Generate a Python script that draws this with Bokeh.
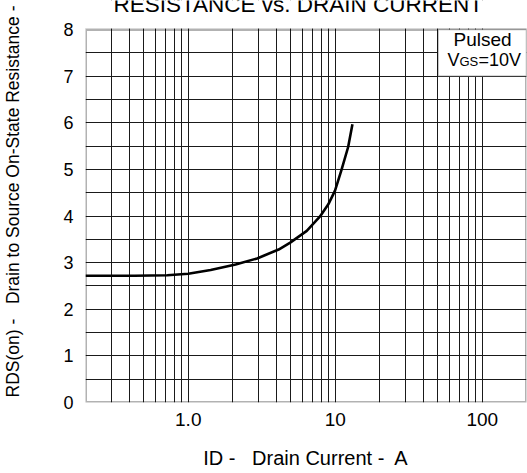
from bokeh.plotting import figure
from bokeh.models import FixedTicker, Label, BoxAnnotation
from bokeh.embed import file_html
from bokeh.resources import INLINE

# ---- data ----
drain_current = [0.2, 0.43, 0.72, 1.0, 1.42, 2.1, 2.94, 4.12, 4.94, 6.4, 7.88, 8.97, 9.95, 11.03, 12.24, 13.09]
rds_on = [2.72, 2.72, 2.73, 2.76, 2.84, 2.96, 3.09, 3.28, 3.43, 3.68, 3.99, 4.25, 4.54, 4.99, 5.48, 5.97]

x_tick_values = [1, 10, 100]
x_tick_labels = ["1.0", "10", "100"]
y_tick_values = [0, 1, 2, 3, 4, 5, 6, 7, 8]

x_min, x_max = 0.2, 200
y_min, y_max = 0, 8

FONT = "Liberation Sans"
NB = "\u00a0"
K = 0.42   # label baseline correction, in em

# ---- layout (pixels) ----
W, H = 527, 473
LEFT, RIGHT = 83, 1          # borders around the plotting frame
BOTTOM = 71
TOP_GAP = 29                 # room above y=8 kept inside the frame for the cut-off title
FRAME_H = H - BOTTOM         # frame runs to the top of the canvas
px_per_unit = (FRAME_H - TOP_GAP) / (y_max - y_min)
y_view_top = y_max + TOP_GAP / px_per_unit

x_grid = [m * 10 ** e for e in (-1, 0, 1, 2) for m in range(1, 10) if x_min < m * 10 ** e < x_max]
y_grid = [i * 0.5 for i in range(1, 16)]

p = figure(width=W, height=H, x_axis_type="log",
           x_range=(x_min, x_max), y_range=(y_min, y_view_top),
           output_backend="svg", toolbar_location=None, title=None,
           min_border_left=LEFT, min_border_right=RIGHT, min_border_top=0, min_border_bottom=BOTTOM)

p.background_fill_color = "white"
p.border_fill_color = "white"
p.outline_line_color = None

# grid
p.xgrid.ticker = FixedTicker(ticks=x_grid)
p.ygrid.ticker = FixedTicker(ticks=y_grid)
for g in (p.xgrid, p.ygrid):
    g.grid_line_color = "#1a1a1a"
    g.grid_line_width = 1
    g.grid_line_alpha = 1

# axes
p.xaxis.ticker = FixedTicker(ticks=x_tick_values)
p.xaxis.major_label_overrides = {v: s for v, s in zip(x_tick_values, x_tick_labels)}
p.yaxis.ticker = FixedTicker(ticks=y_tick_values)
for ax in (p.xaxis, p.yaxis):
    ax.axis_line_color = None
    ax.major_tick_line_color = None
    ax.minor_tick_line_color = None
    ax.major_tick_out = 0
    ax.major_tick_in = 0
    ax.major_label_text_font = FONT
    ax.major_label_text_color = "black"
    ax.axis_label_text_font = FONT
    ax.axis_label_text_font_style = "normal"
    ax.axis_label_text_color = "black"
p.xaxis.major_label_text_font_size = "19px"
p.yaxis.major_label_text_font_size = "18px"
p.xaxis.major_label_standoff = 10
p.yaxis.major_label_standoff = 12
p.xaxis.axis_label = "ID -" + NB * 2 + " Drain Current -" + NB + " A"
p.xaxis.axis_label_text_font_size = "20px"
p.xaxis.axis_label_standoff = 18
p.yaxis.axis_label = "RDS(on) -" + NB * 2 + " Drain to Source On-State Resistance -"
p.yaxis.axis_label_text_font_size = "17.5px"
p.yaxis.axis_label_standoff = 37

# curve
p.line(drain_current, rds_on, line_color="black", line_width=2.6)

# plot border (half of the line is clipped at the frame edges)
p.add_layout(BoxAnnotation(left=x_min, right=x_max, bottom=y_min, top=y_max,
                           fill_alpha=0, line_color="black", line_width=3))
# blank strip above the chart, where the cut-off title sits
p.add_layout(BoxAnnotation(left=x_min, right=x_max, bottom=y_max + 1 / px_per_unit, top=y_view_top,
                           fill_color="white", fill_alpha=1, line_color=None))
# legend box
p.add_layout(BoxAnnotation(left=50, right=x_max, bottom=7, top=y_max,
                           fill_color="white", fill_alpha=1,
                           line_color="black", line_width=1.5))


def lab(text, x, base_y, size, align="left"):
    """x, base_y: pixels from the frame's left edge / top edge to the text baseline."""
    p.add_layout(Label(x=x, y=FRAME_H - base_y + K * size, x_units="screen", y_units="screen",
                       text=text, text_font=FONT, text_font_size=f"{size}px", text_color="black",
                       text_baseline="alphabetic", text_align=align))


# legend texts
lab("Pulsed", 397, 46.7, 19, align="center")
lab("V", 362, 66.7, 18)
lab("GS", 374, 66.7, 13)
lab("=10V", 393, 66.7, 18)

# chart title, cut off at the top edge as in the source
lab("RESISTANCE vs. DRAIN CURRENT", 28, 13.5, 22.5)

open("out.html", "w").write(file_html(p, INLINE))
